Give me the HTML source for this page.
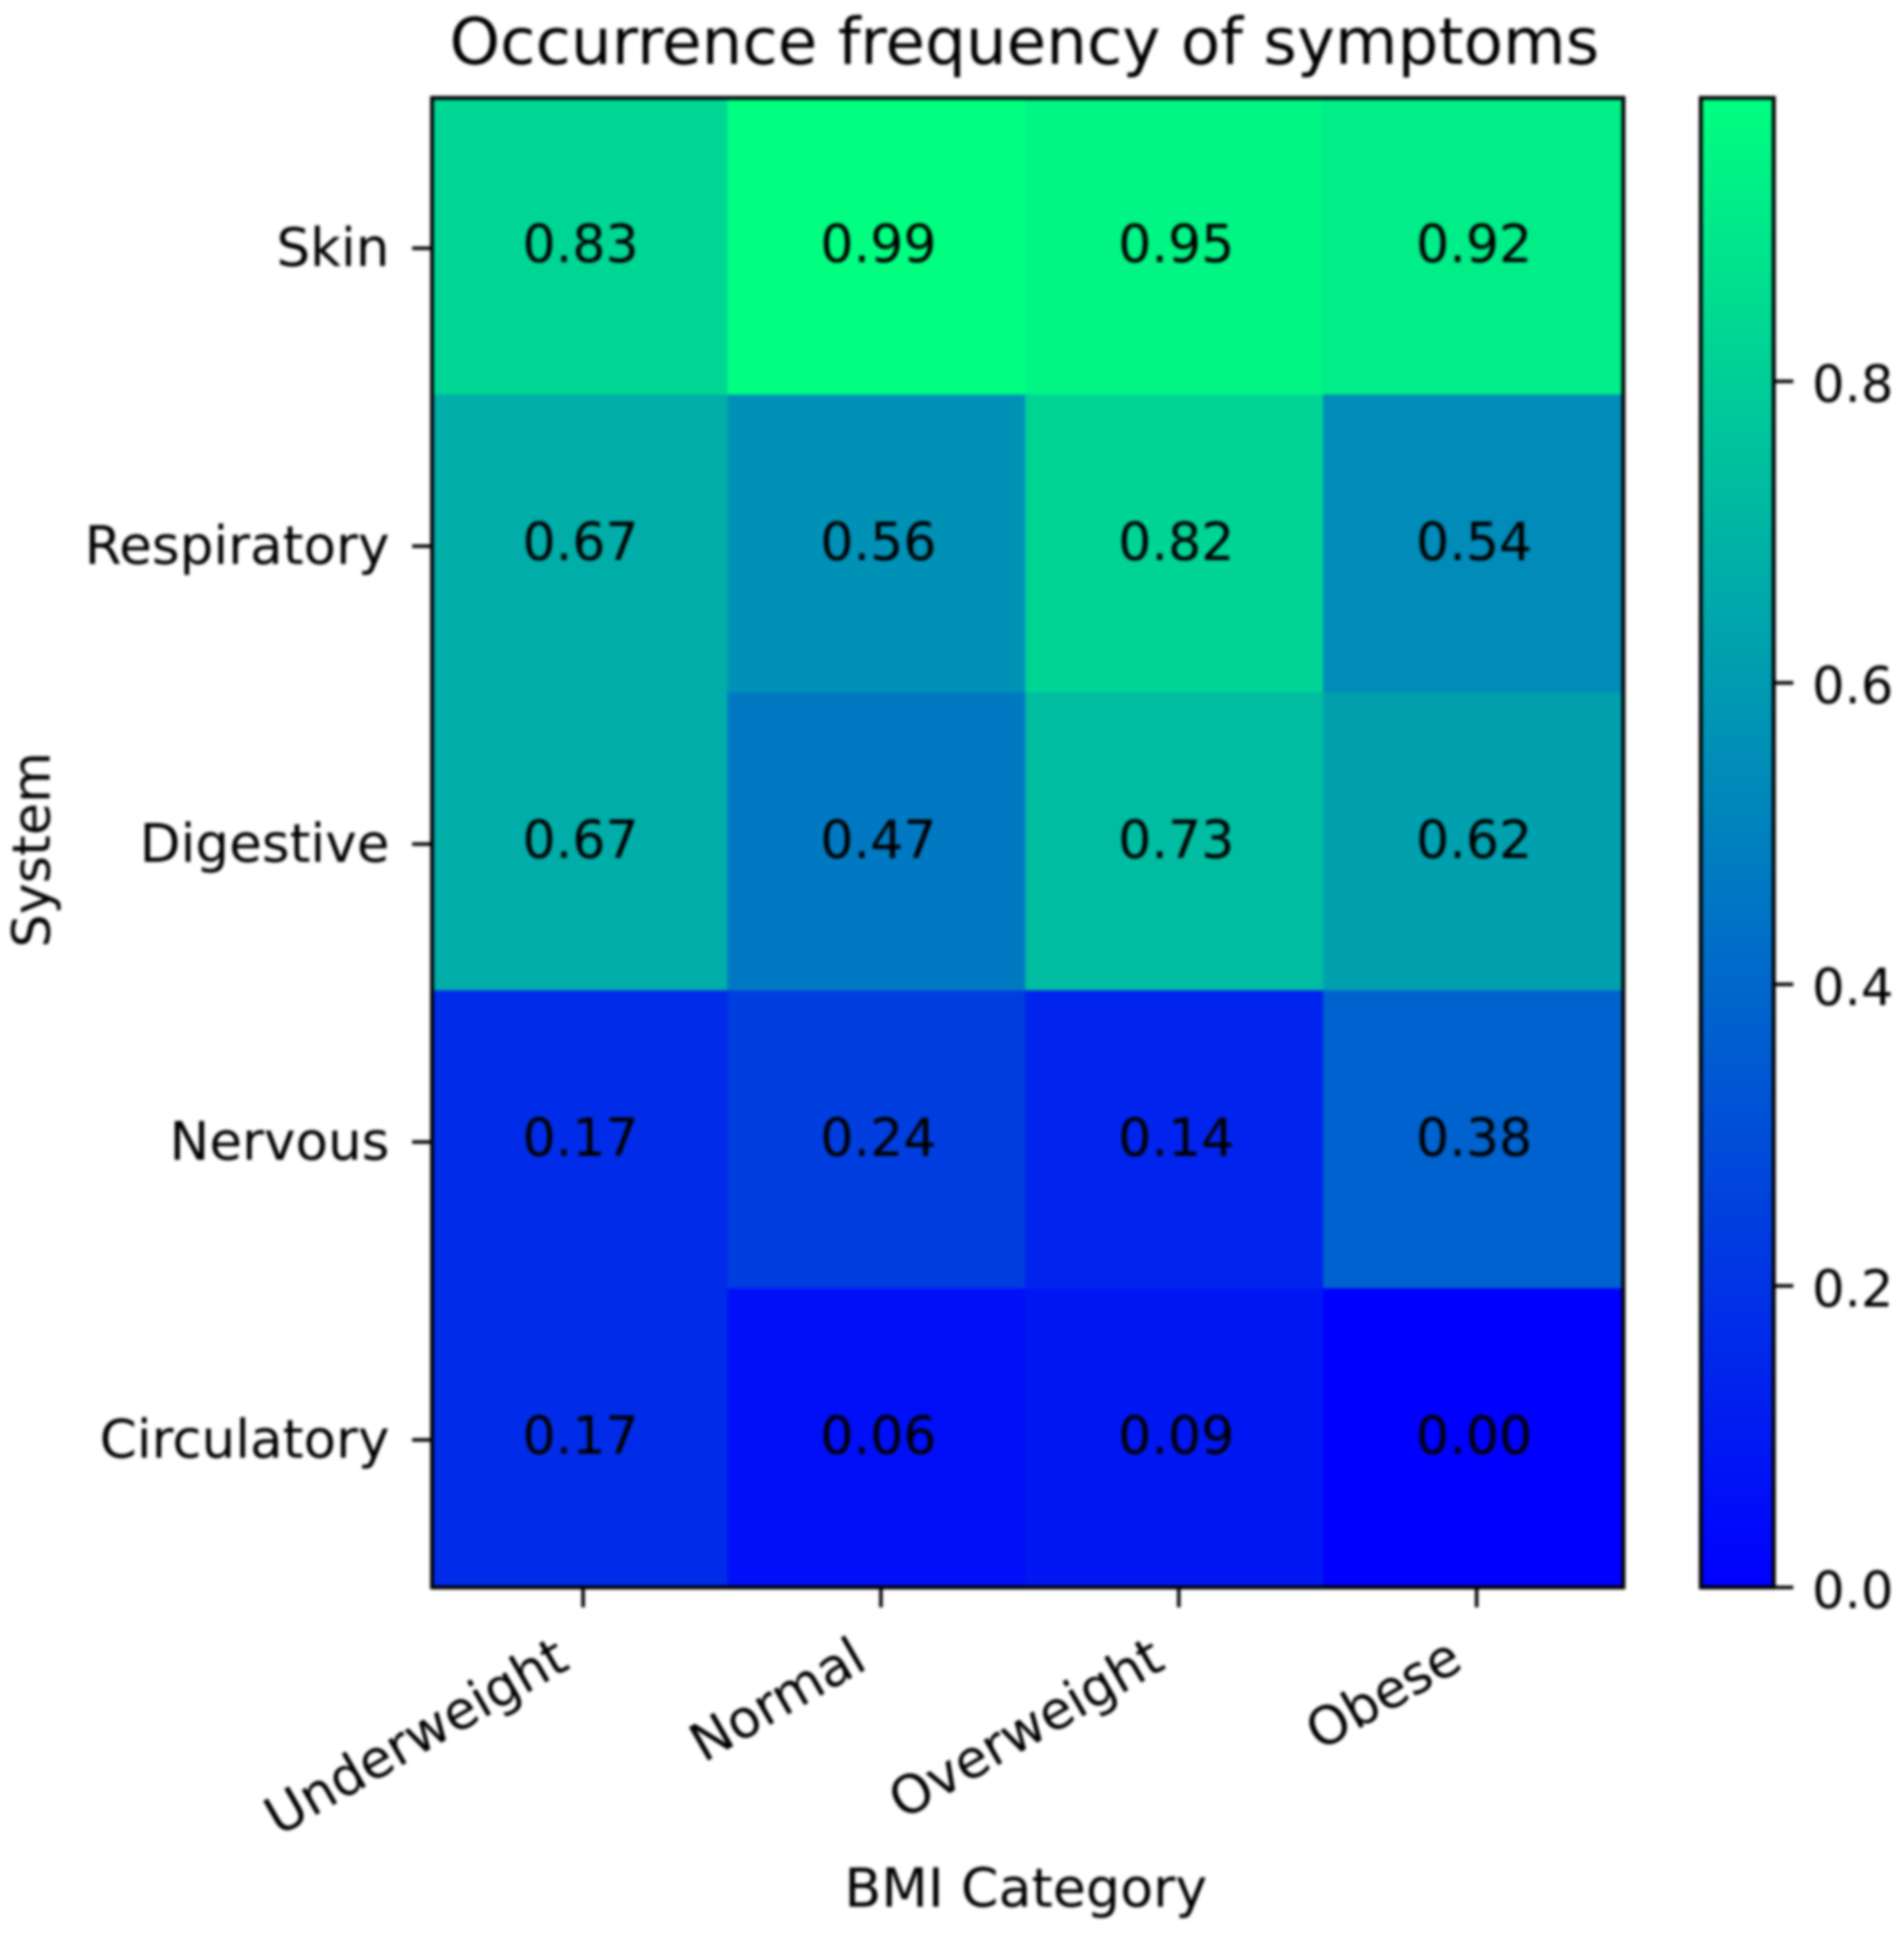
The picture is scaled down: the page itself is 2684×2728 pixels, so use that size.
<!DOCTYPE html>
<html lang="en">
<head>
<meta charset="utf-8">
<title>Occurrence frequency of symptoms</title>
<style>
html,body{margin:0;padding:0;background:#fff;width:2684px;height:2728px;overflow:hidden}
svg{display:block}
text{font-family:"DejaVu Sans","Liberation Sans",sans-serif;fill:#000}
</style>
</head>
<body>
<svg id="chart" xmlns="http://www.w3.org/2000/svg" width="2684" height="2728" viewBox="0 0 2684 2728">
  <defs>
    <filter id="soft" x="0" y="0" width="2684" height="2728" filterUnits="userSpaceOnUse" color-interpolation-filters="sRGB">
      <feGaussianBlur stdDeviation="2.2"/>
    </filter>
    <linearGradient id="winter-gradient" x1="0" y1="1" x2="0" y2="0"></linearGradient>
    <clipPath id="plot-clip"><rect x="609" y="138" width="1679.5" height="2100"/></clipPath>
  </defs>
  <g id="root" filter="url(#soft)">
    <rect x="0" y="0" width="2684" height="2728" fill="#fff"/>
    <g id="cells" clip-path="url(#plot-clip)"></g>
    <g id="cell-labels"></g>
    <rect x="609" y="138" width="1679.5" height="2100" fill="none" stroke="#000" stroke-width="5.5"/>
    <g id="x-axis"></g>
    <g id="y-axis"></g>
    <rect x="2397.5" y="138" width="103" height="2100" fill="url(#winter-gradient)"/>
    <rect x="2397.5" y="138" width="103" height="2100" fill="none" stroke="#000" stroke-width="5.5"/>
    <g id="colorbar-axis"></g>
    <text x="1444" y="90" font-size="90.7" text-anchor="middle">Occurrence frequency of symptoms</text>
    <text x="1446" y="2688" font-size="76" text-anchor="middle">BMI Category</text>
    <text x="0" y="0" font-size="74" text-anchor="middle" transform="translate(70 1198) rotate(-90)">System</text>
  </g>
</svg>
<script>
const bmiCategories = ["Underweight", "Normal", "Overweight", "Obese"];
const systems = ["Skin", "Respiratory", "Digestive", "Nervous", "Circulatory"];
const skinValues = [0.83, 0.99, 0.95, 0.92];
const respiratoryValues = [0.67, 0.56, 0.82, 0.54];
const digestiveValues = [0.67, 0.47, 0.73, 0.62];
const nervousValues = [0.17, 0.24, 0.14, 0.38];
const circulatoryValues = [0.17, 0.06, 0.09, 0.00];
const colorbarTicks = [0.0, 0.2, 0.4, 0.6, 0.8];
const colorMin = 0;
const colorMax = 0.988;

const NS = "http://www.w3.org/2000/svg";
const plot = { left: 609, right: 2288.5, top: 138, bottom: 2238 };
const rows = [skinValues, respiratoryValues, digestiveValues, nervousValues, circulatoryValues];

function xBand() { return (plot.right - plot.left) / bmiCategories.length; }
function yBand() { return (plot.bottom - plot.top) / systems.length; }
function xScale(i) { return plot.left + xBand() * i; }
function yScale(i) { return plot.top + yBand() * i; }
function colorbarY(v) { return plot.bottom - (v - colorMin) / (colorMax - colorMin) * (plot.bottom - plot.top); }
function winter(t) {
  const c = Math.max(0, Math.min(1, t));
  return "rgb(0," + Math.round(255 * c) + "," + Math.round(255 - 127.5 * c) + ")";
}
function valueColor(v) { return winter((v - colorMin) / (colorMax - colorMin)); }
function make(tag, attrs, parent, txt) {
  const el = document.createElementNS(NS, tag);
  for (const k in attrs) el.setAttribute(k, attrs[k]);
  if (txt !== undefined) el.textContent = txt;
  parent.appendChild(el);
  return el;
}

const cellsG = document.getElementById("cells");
const labelsG = document.getElementById("cell-labels");
const xAxisG = document.getElementById("x-axis");
const yAxisG = document.getElementById("y-axis");
const cbAxisG = document.getElementById("colorbar-axis");
const grad = document.getElementById("winter-gradient");

rows.forEach(function (row, r) {
  row.forEach(function (v, c) {
    const cell = make("rect", { x: xScale(c) - 3.5, y: yScale(r) - 1.7, width: xBand() + 4, height: yBand() + 2.2, fill: valueColor(v) }, cellsG);
    
    
    const label = make("text", { x: xScale(c) + xBand() / 2 - 0.5, y: yScale(r) + yBand() / 2 + 21.5, "font-size": 73.6, "text-anchor": "middle" }, labelsG, v.toFixed(2));
    
    
  });
});

bmiCategories.forEach(function (name, i) {
  const tx = xScale(i) + xBand() / 2 + 3;
  const tick = make("line", { x1: tx, x2: tx, y1: plot.bottom, y2: plot.bottom + 28, stroke: "#000", "stroke-width": 5 }, xAxisG);
  
  
  const label = make("text", { x: 0, y: 0, "font-size": 74.5, "text-anchor": "end", transform: "translate(" + (tx - 16.5) + " " + (plot.bottom + 113) + ") rotate(-30)" }, xAxisG, name);
  
  
});

systems.forEach(function (name, i) {
  const ty = yScale(i) + yBand() / 2 + 2;
  const tick = make("line", { x1: plot.left - 28, x2: plot.left, y1: ty, y2: ty, stroke: "#000", "stroke-width": 5 }, yAxisG);
  
  
  const label = make("text", { x: 549, y: ty + 25, "font-size": 75, "text-anchor": "end" }, yAxisG, name);
  
  
});

[0, 0.25, 0.5, 0.75, 1].forEach(function (t) {
  make("stop", { offset: t, "stop-color": winter(t) }, grad);
});

colorbarTicks.forEach(function (v) {
  const ty = colorbarY(v);
  const tick = make("line", { x1: 2500.5, x2: 2528, y1: ty, y2: ty, stroke: "#000", "stroke-width": 5 }, cbAxisG);
  
  
  const label = make("text", { x: 2554.5, y: ty + 29, "font-size": 72 }, cbAxisG, v.toFixed(1));
  
  
});
</script>
</body>
</html>
